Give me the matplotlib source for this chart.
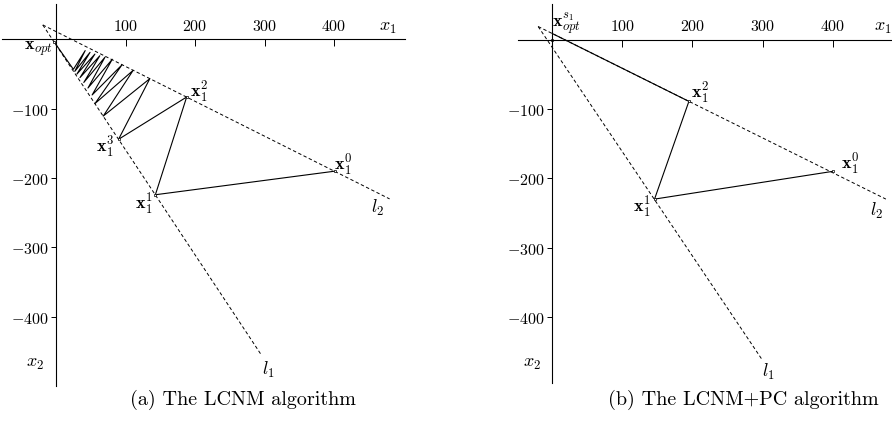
import matplotlib
matplotlib.use("Agg")
import matplotlib.pyplot as plt

plt.rcParams['mathtext.fontset'] = 'cm'

# tick values
x_ticks = [100, 200, 300, 400]
y_ticks = [-100, -200, -300, -400]

# (a) LCNM: constraint lines and iterates
lcnm_l1_x1 = [-19, 296]
lcnm_l1_x2 = [21, -456]
lcnm_l2_x1 = [-19, 480]
lcnm_l2_x2 = [21, -230]
lcnm_x1 = [401, 143, 188, 90, 135, 68, 111, 56, 95, 52, 81, 46, 70.5, 40, 63,
           34.5, 56, 30, 49, 27, 42, 25, -3]
lcnm_x2 = [-190, -224, -83, -144, -56.5, -110.5, -44.5, -92.5, -36.5, -80,
           -28.5, -70, -25.5, -62, -23.5, -55, -21, -50, -18.5, -46, -16, -43, -3]

# (b) LCNM+PC
pc_l1_x1 = [-20, 299]
pc_l1_x2 = [19, -461]
pc_l2_x1 = [-20, 476]
pc_l2_x2 = [19, -230]
pc_x1 = [400, 146, 195, 0]
pc_x2 = [-190, -230, -89, 9]


def setup_axes(ax, xbounds, ybounds):
    ax.spines['right'].set_visible(False)
    ax.spines['bottom'].set_visible(False)
    ax.spines['top'].set_position(('data', 0))
    ax.spines['left'].set_position(('data', 0))
    ax.spines['top'].set_bounds(*xbounds)
    ax.spines['left'].set_bounds(*ybounds)
    for s in ('top', 'left'):
        ax.spines[s].set_linewidth(0.8)
    ax.xaxis.set_ticks_position('top')
    ax.set_xticks(x_ticks)
    ax.set_xticklabels(['$%d$' % v for v in x_ticks])
    ax.set_yticks(y_ticks)
    ax.set_yticklabels(['$%d$' % v for v in y_ticks])
    ax.tick_params(axis='x', direction='in', length=5, width=0.7, pad=5, labelsize=11.5)
    ax.tick_params(axis='y', direction='out', length=3.5, width=0.7, pad=1.5, labelsize=11.5)
    ax.patch.set_visible(False)


fig = plt.figure(figsize=(8.92, 4.27), dpi=100)

dash = (3.5, 2.5)
lbl = dict(fontsize=13, ha='center', va='center')

# ---- (a)
ax1 = fig.add_axes([0.4 / 892, 36.5 / 427, 417 / 892, 390.2 / 427])
ax1.set_xlim(-80, 520)
ax1.set_ylim(-505, 58)
setup_axes(ax1, (-78, 502), (-500, 51))
ax1.plot(lcnm_l1_x1, lcnm_l1_x2, 'k--', lw=0.7, dashes=dash)
ax1.plot(lcnm_l2_x1, lcnm_l2_x2, 'k--', lw=0.7, dashes=dash)
ax1.plot(lcnm_x1, lcnm_x2, 'k-', lw=0.8)
ax1.plot(lcnm_x1[:4] + lcnm_x1[-1:], lcnm_x2[:4] + lcnm_x2[-1:], 'ks',
         ms=2, mfc='white', mew=0.5)
ax1.text(-24.5, -12.3, r'$\mathbf{x}_{opt}$', **lbl)
ax1.text(413, -180, r'$\mathbf{x}_1^0$', **lbl)
ax1.text(126.6, -237, r'$\mathbf{x}_1^1$', **lbl)
ax1.text(205.8, -74.3, r'$\mathbf{x}_1^2$', **lbl)
ax1.text(70.5, -155, r'$\mathbf{x}_1^3$', **lbl)
ax1.text(463, -242, r'$l_2$', **lbl)
ax1.text(305, -475, r'$l_1$', **lbl)
ax1.text(-30, -465, r'$x_2$', **lbl)
ax1.text(478, 19.5, r'$x_1$', **lbl)

# ---- (b)
ax2 = fig.add_axes([496.1 / 892, 36.3 / 427, 396.1 / 892, 390.2 / 427])
ax2.set_xlim(-80, 485)
ax2.set_ylim(-505, 58)
setup_axes(ax2, (-49, 485), (-496, 52))
ax2.plot(pc_l1_x1, pc_l1_x2, 'k--', lw=0.7, dashes=dash)
ax2.plot(pc_l2_x1, pc_l2_x2, 'k--', lw=0.7, dashes=dash)
ax2.plot(pc_x1, pc_x2, 'k-', lw=0.8)
ax2.plot(pc_x1[:3] + [0], pc_x2[:3] + [0], 'ks', ms=2, mfc='white', mew=0.5)
ax2.text(21, 24, r'$\mathbf{x}_{opt}^{s_1}$', **lbl)
ax2.text(424.7, -179, r'$\mathbf{x}_1^0$', **lbl)
ax2.text(128, -240, r'$\mathbf{x}_1^1$', **lbl)
ax2.text(210.7, -75.5, r'$\mathbf{x}_1^2$', **lbl)
ax2.text(463, -246, r'$l_2$', **lbl)
ax2.text(307.8, -478, r'$l_1$', **lbl)
ax2.text(-28.8, -465, r'$x_2$', **lbl)
ax2.text(471.8, 19.8, r'$x_1$', **lbl)

fig.text(243 / 892, 1 - 400 / 427, '(a) The LCNM algorithm', family='cmr10',
         fontsize=14.5, ha='center', va='center')
fig.text(743 / 892, 1 - 400 / 427, '(b) The LCNM+PC algorithm', family='cmr10',
         fontsize=14.5, ha='center', va='center')

fig.savefig('out.png', dpi=100)
